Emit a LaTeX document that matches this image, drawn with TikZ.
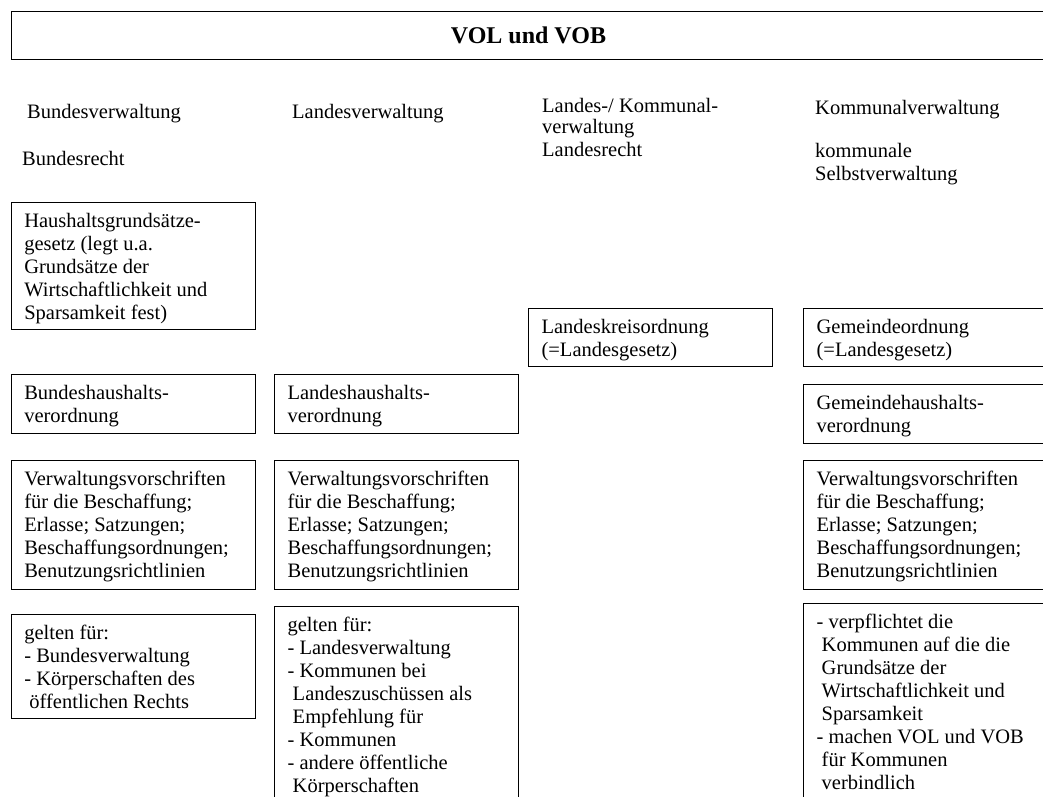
\documentclass[tikz,border=0pt]{standalone}
\usepackage{fontspec}
\setmainfont{Liberation Serif}
% boxed text: fixed inner height, text starts at the top
\newcommand\boxtxt[3][218pt]{\parbox[t][#2][t]{#1}{\raggedright\strut #3}}
\newcommand\ind{\hspace*{0.25em}}

\begin{document}
\begin{tikzpicture}[x=1pt,y=-1pt,
  every node/.style={inner sep=0pt, font=\fontsize{20.5}{23}\selectfont},
  rulebox/.style={draw, line width=1.2pt, anchor=north west, inner xsep=13pt, inner ysep=9pt},
  heading/.style={anchor=base west},
  titlebox/.style={draw, line width=1.6pt, minimum width=1050pt, minimum height=47.8pt,
    anchor=north west, font=\fontsize{24}{28}\selectfont\bfseries}]
\useasboundingbox (0,0) rectangle (1043,796);
\clip (0,0) rectangle (1043,796);

% title (frame runs past the right edge, text sits mid-page)
\node[titlebox] (title) at (10.7,10.7) {\hspace*{-16pt}VOL und VOB};

% column headings
\node[heading] (hBund) at (27,118) {Bundesverwaltung};
\node[heading] (hBundR) at (22,165) {Bundesrecht};
\node[heading] (hLand) at (292,118) {Landesverwaltung};
\node[heading] (hLaKo) at (542,112) {\parbox[t]{230pt}{Landes-/ Kommunal-\\[-1.5pt]verwaltung\\Landesrecht}};
\node[heading] (hKom) at (815,114) {Kommunalverwaltung};
\node[heading] (hKomS) at (815,157) {\parbox[t]{220pt}{kommunale\\Selbstverwaltung}};

% Bund column
\node[rulebox] (hgrg) at (10.7,202) {\boxtxt{109pt}{Haushaltsgrundsätze-\\gesetz (legt u.a.\\Grundsätze der\\Wirtschaftlichkeit und\\Sparsamkeit fest)}};
\node[rulebox] (bho) at (10.7,374) {\boxtxt{41pt}{Bundeshaushalts-\\verordnung}};
\node[rulebox] (vwBund) at (10.7,460) {\boxtxt{111pt}{Verwaltungsvorschriften\\für die Beschaffung;\\Erlasse; Satzungen;\\Beschaffungsordnungen;\\Benutzungsrichtlinien}};
\node[rulebox] (gBund) at (10.7,614) {\boxtxt{86pt}{gelten für:\\- Bundesverwaltung\\- Körperschaften des\\\ind öffentlichen Rechts}};

% Land column
\node[rulebox] (lho) at (274,374) {\boxtxt{41pt}{Landeshaushalts-\\verordnung}};
\node[rulebox] (vwLand) at (274,460) {\boxtxt{111pt}{Verwaltungsvorschriften\\für die Beschaffung;\\Erlasse; Satzungen;\\Beschaffungsordnungen;\\Benutzungsrichtlinien}};
\node[rulebox] (gLand) at (274,606) {\boxtxt{200pt}{gelten für:\\- Landesverwaltung\\- Kommunen bei\\\ind Landeszuschüssen als\\\ind Empfehlung für\\- Kommunen\\- andere öffentliche\\\ind Körperschaften}};

% Landes-/Kommunal column
\node[rulebox] (lko) at (528,308) {\boxtxt{40pt}{Landeskreisordnung\\(=Landesgesetz)}};

% Kommunal column (boxes run past the right edge)
\node[rulebox] (go) at (803,308) {\boxtxt[240pt]{40pt}{Gemeindeordnung\\(=Landesgesetz)}};
\node[rulebox] (gho) at (803,384) {\boxtxt[240pt]{41pt}{Gemeindehaushalts-\\verordnung}};
\node[rulebox] (vwKom) at (803,460) {\boxtxt[240pt]{111pt}{Verwaltungsvorschriften\\für die Beschaffung;\\Erlasse; Satzungen;\\Beschaffungsordnungen;\\Benutzungsrichtlinien}};
\node[rulebox] (gKom) at (803,603) {\boxtxt[240pt]{200pt}{- verpflichtet die\\\ind Kommunen auf die die\\\ind Grundsätze der\\\ind Wirtschaftlichkeit und\\\ind Sparsamkeit\\- machen VOL und VOB\\\ind für Kommunen\\\ind verbindlich}};
\end{tikzpicture}
\end{document}
